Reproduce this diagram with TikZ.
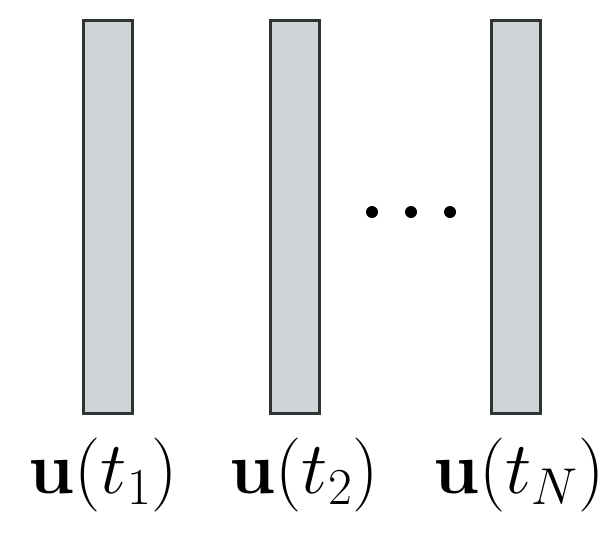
\RequirePackage{fix-cm}
\documentclass[tikz,border=0pt]{standalone}
\usepackage{tikz}
\definecolor{barfill}{HTML}{D0D5D7}
\definecolor{baredge}{HTML}{303333}

\begin{document}
\begin{tikzpicture}[x=1pt,y=-1pt,
  bar/.style={draw=baredge,fill=barfill,line width=3pt,inner sep=0pt,
    minimum width=49pt,minimum height=393pt},
  lbl/.style={anchor=base,inner sep=0pt,font=\fontsize{74}{74}\selectfont}]
  \useasboundingbox (0,0) rectangle (616,536);
  % time-sample bars
  \node[bar] (b1) at (108,217) {};
  \node[bar] (b2) at (295,217) {};
  \node[bar] (b3) at (516,217) {};
  \fill (372,212) circle[radius=6];
  \fill (411,212) circle[radius=6];
  \fill (450,212) circle[radius=6];
  % labels
  \node[lbl] (l1) at (103,493) {$\mathbf{u}(t_1)$};
  \node[lbl] (l2) at (304,493) {$\mathbf{u}(t_2)$};
  \node[lbl] (l3) at (519,493) {$\mathbf{u}(t_N)$};
\end{tikzpicture}
\end{document}
